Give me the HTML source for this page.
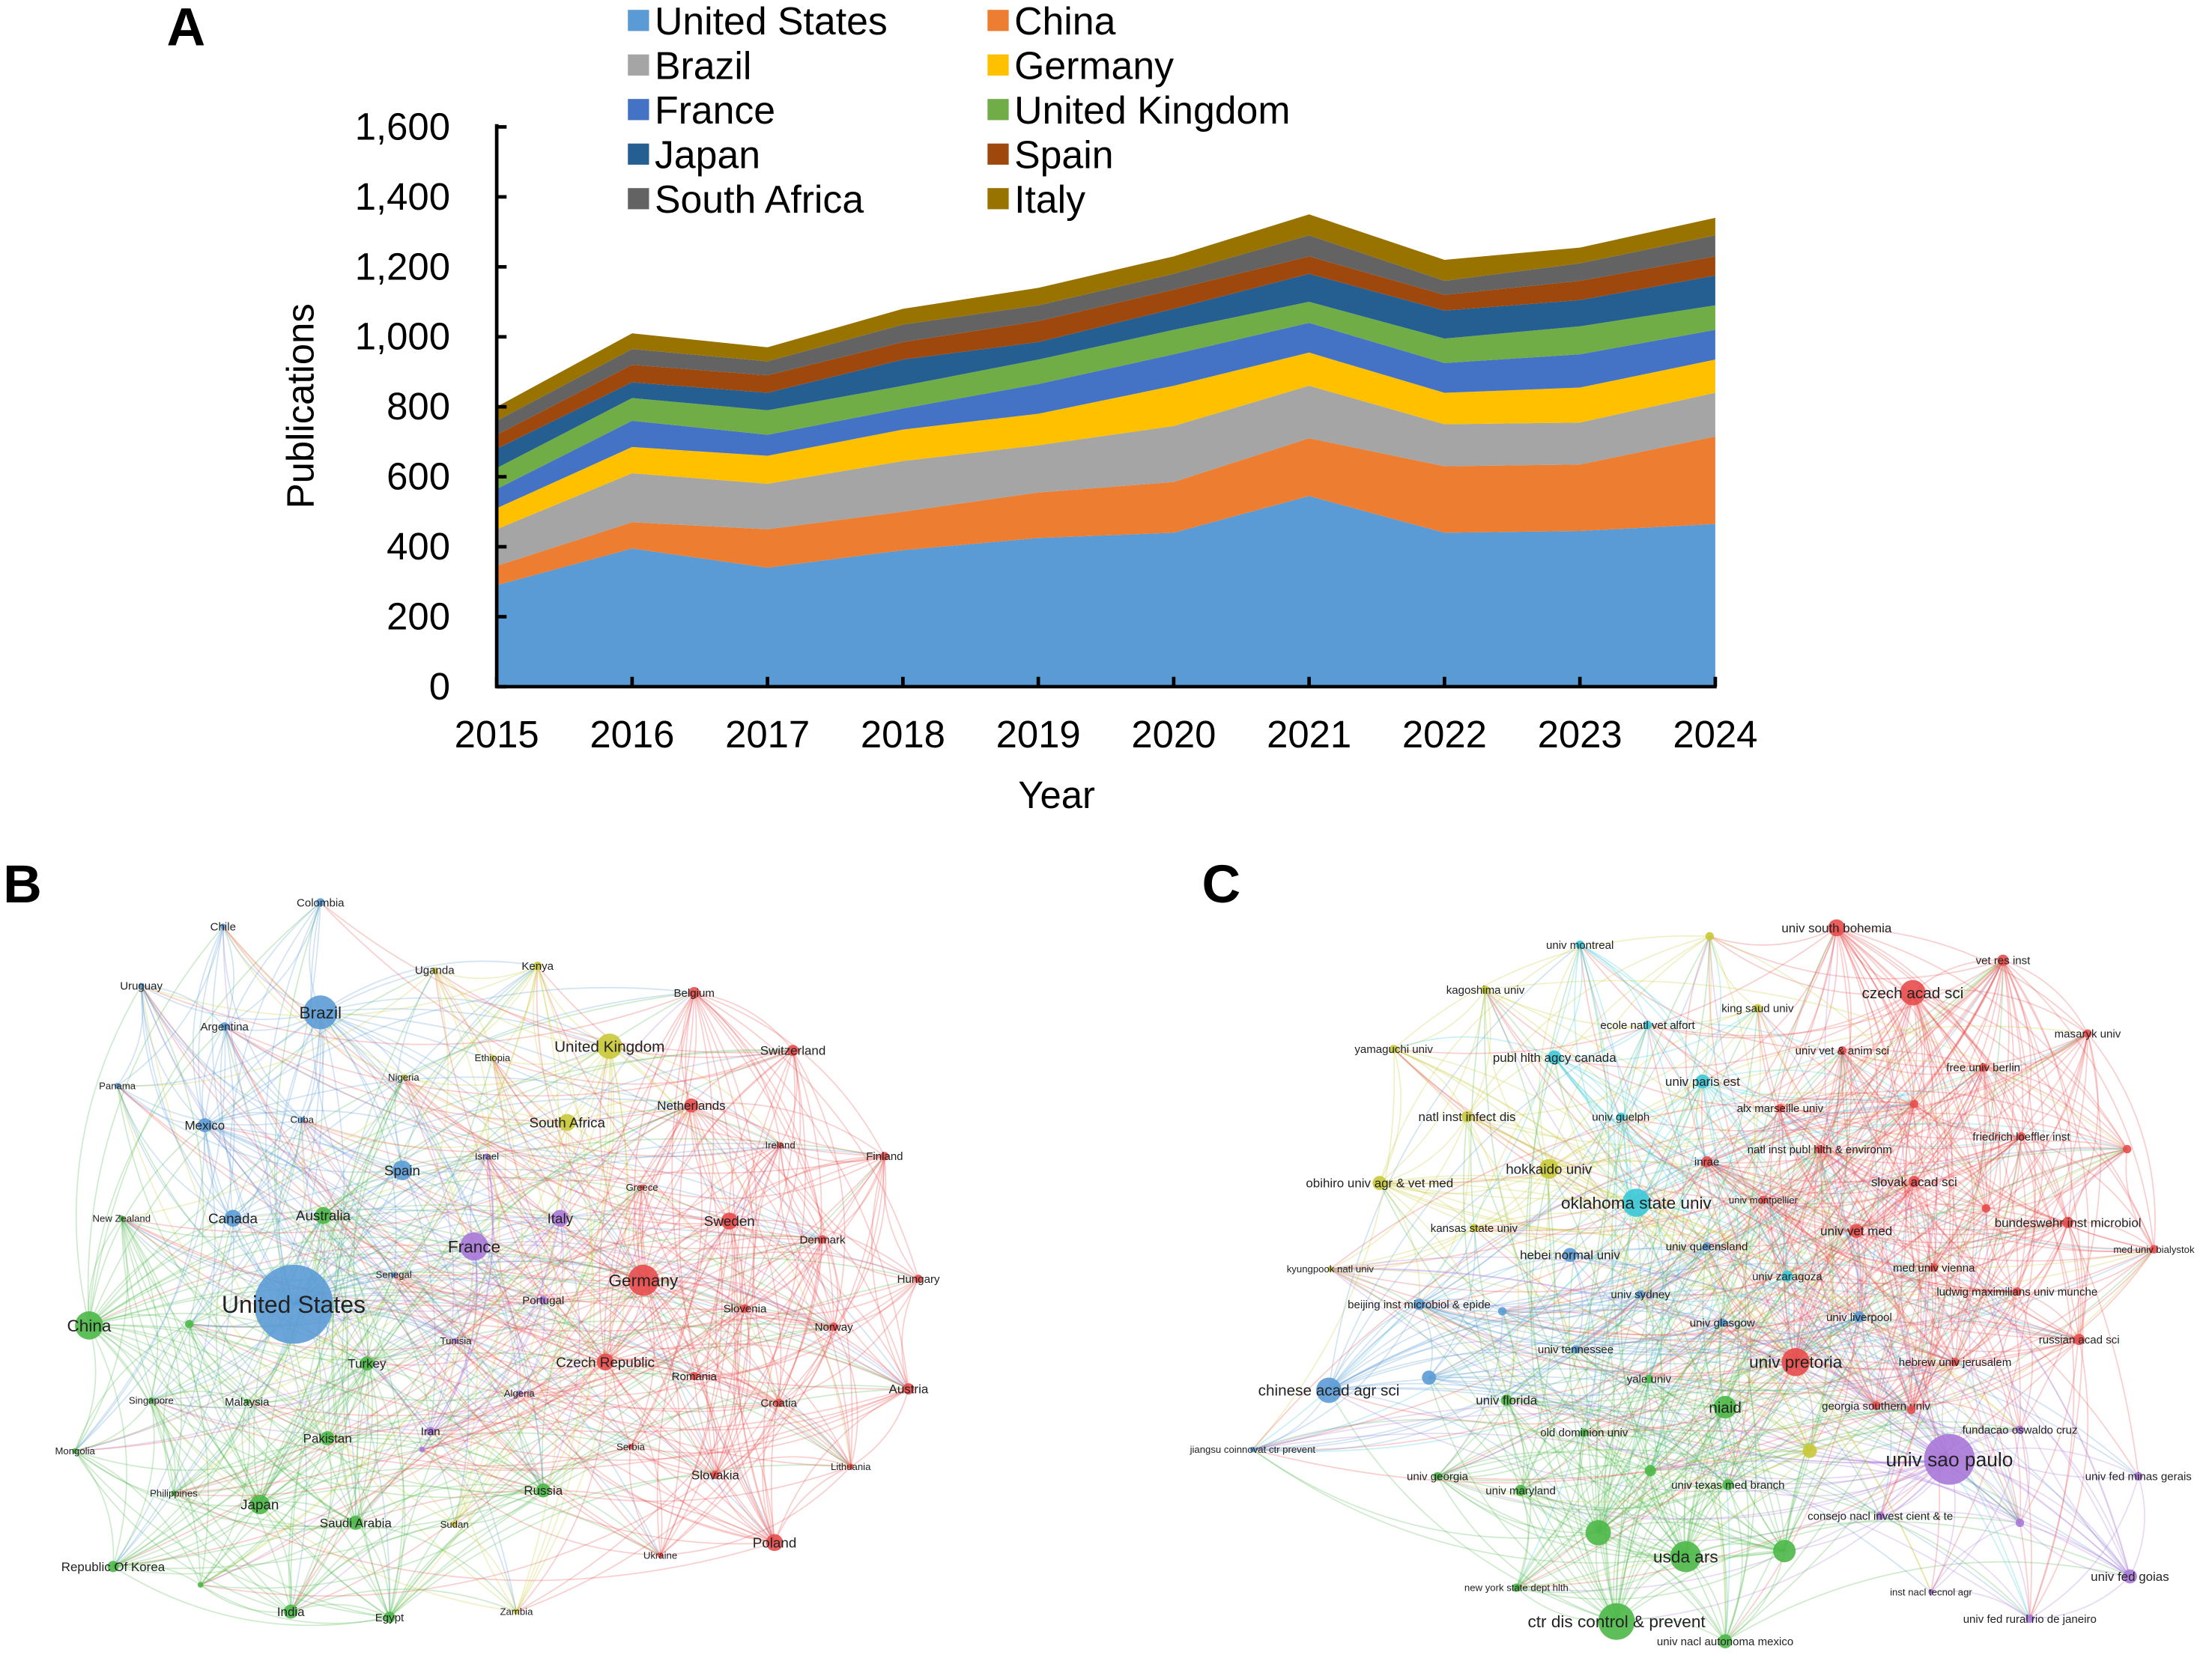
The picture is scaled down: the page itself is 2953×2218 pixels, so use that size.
<!DOCTYPE html>
<html><head><meta charset="utf-8"><style>
html,body{margin:0;padding:0;background:#fff}
svg{display:block}
text{font-family:"Liberation Sans",Arial,sans-serif}
</style></head><body>
<svg id="root" width="2953" height="2218" viewBox="0 0 1568 1178" xmlns="http://www.w3.org/2000/svg">
<g id="chartA"></g>
<g id="netB"></g>
<g id="netC"></g>
</svg>
<script>
const NS="http://www.w3.org/2000/svg";
function mk(tag,attrs,parent,txt){const e=document.createElementNS(NS,tag);for(const k in attrs)e.setAttribute(k,attrs[k]);if(txt!==undefined)e.textContent=txt;parent.appendChild(e);return e;}

// ---- Chart A data ----
const years=[2015,2016,2017,2018,2019,2020,2021,2022,2023,2024];
const seriesNames=["United States","China","Brazil","Germany","France","United Kingdom","Japan","Spain","South Africa","Italy"];
const usVals=[290,395,340,390,425,440,545,440,445,465];
const chinaVals=[55,75,110,110,130,145,165,190,190,250];
const brazilVals=[105,140,130,145,135,160,150,120,120,125];
const germanyVals=[60,75,80,90,90,115,95,90,100,95];
const franceVals=[55,75,60,60,85,90,85,85,95,85];
const ukVals=[60,65,70,65,70,70,60,70,80,70];
const japanVals=[55,45,50,75,50,60,80,80,75,85];
const spainVals=[40,50,50,50,60,55,50,45,55,55];
const saVals=[40,45,40,50,45,45,60,40,50,60];
const italyVals=[40,45,40,45,50,50,60,60,45,50];
const yTicks=[0,200,400,600,800,1000,1200,1400,1600];
const yTickLabels=["0","200","400","600","800","1,000","1,200","1,400","1,600"];
const colors=["#5b9bd5","#ed7d31","#a5a5a5","#ffc000","#4472c4","#70ad47","#255e91","#9e480e","#636363","#997300"];
const allVals=[usVals,chinaVals,brazilVals,germanyVals,franceVals,ukVals,japanVals,spainVals,saVals,italyVals];

const A=document.getElementById('chartA');
const xS=y=>352+(y-2015)*96;
const yS=v=>487-v*(397/1600);
mk('text',{x:118,y:32,'font-size':38,'font-weight':'bold',},A,'A');
let base=years.map(()=>0);
allVals.forEach((vals,i)=>{
  const top=vals.map((v,j)=>base[j]+v);
  let d='M'+years.map((y,j)=>xS(y)+','+yS(top[j])).join('L');
  for(let j=years.length-1;j>=0;j--)d+='L'+xS(years[j])+','+yS(base[j]);
  const p=mk('path',{d:d+'Z',fill:colors[i]},A);
  
  
  base=top;
});
mk('line',{x1:352,y1:88,x2:352,y2:488,stroke:'#000','stroke-width':2.5,},A);
mk('line',{x1:351,y1:487,x2:1217,y2:487,stroke:'#000','stroke-width':2.5,},A);
yTicks.forEach((t,i)=>{
  mk('line',{x1:352,y1:yS(t),x2:359,y2:yS(t),stroke:'#000','stroke-width':2.5},A);
  const tx=mk('text',{x:319,y:yS(t)+9,'font-size':27,'text-anchor':'end'},A,yTickLabels[i]);
  
  
});
years.forEach(y=>{
  mk('line',{x1:xS(y),y1:487,x2:xS(y),y2:480,stroke:'#000','stroke-width':2.5},A);
  const tx=mk('text',{x:xS(y),y:530,'font-size':27,'text-anchor':'middle'},A,String(y));
  
  
});
mk('text',{x:749,y:573,'font-size':27,'text-anchor':'middle',},A,'Year');
mk('text',{x:222,y:288,'font-size':27,'text-anchor':'middle',transform:'rotate(-90 222 288)',},A,'Publications');
const legOrder=[[0,1],[2,3],[4,5],[6,7],[8,9]];
legOrder.forEach((row,r)=>{row.forEach((si,c)=>{
  const lx=c===0?445:700, ly=15+r*31.6;
  const g=mk('g',{},A);
  
  
  mk('rect',{x:lx,y:ly-8,width:15,height:15,fill:colors[si]},g);
  mk('text',{x:lx+19,y:ly+9.5,'font-size':27.5},g,seriesNames[si]);
});});

// ---- Networks ----
const CL={b:"#5b9bd5",g:"#4cb848",r:"#e84c4c",y:"#c9c93a",p:"#a878d8",c:"#3cc8d8"};
const nodesB=[["United States",208,925,28,"b",17],["Brazil",227,718,12,"b",12],["China",63,940,10,"g",12],["Germany",456,908,11,"r",12],["France",336,884,10,"p",12],["United Kingdom",432,742,9,"y",11],["Spain",285,830,7,"b",10],["Italy",397,864,6,"p",10],["Japan",184,1067,7,"g",10],["Canada",165,864,6,"b",10],["Australia",229,862,6,"g",10],["South Africa",402,796,6,"y",10],["Mexico",145,798,5,"b",9],["Turkey",260,967,5,"g",9],["Pakistan",232,1020,5,"g",9],["Saudi Arabia",252,1080,5,"g",9],["India",206,1143,5,"g",9],["Egypt",276,1147,4,"g",8],["Russia",385,1057,5,"g",9],["Poland",549,1094,6,"r",10],["Czech Republic",429,966,6,"r",10],["Sweden",517,866,6,"r",10],["Netherlands",490,784,5,"r",9],["Belgium",492,704,4,"r",8],["Switzerland",562,745,4,"r",9],["Austria",644,985,4,"r",9],["Hungary",651,907,3,"r",8],["Finland",627,820,3,"r",8],["Denmark",583,879,3,"r",8],["Norway",591,941,3,"r",8],["Slovenia",528,928,3,"r",8],["Romania",492,976,3,"r",8],["Croatia",552,995,3,"r",8],["Slovakia",507,1046,3,"r",9],["Lithuania",603,1040,2,"r",7],["Ukraine",468,1103,2,"r",7],["Serbia",447,1026,2,"r",7],["Ireland",553,812,2,"r",7],["Greece",455,842,2,"r",7],["Kenya",381,685,3,"y",8],["Uganda",308,688,2,"y",8],["Ethiopia",349,750,2,"y",7],["Nigeria",286,764,2,"y",7],["Sudan",322,1081,2,"y",7],["Zambia",366,1143,2,"y",7],["Israel",345,820,2,"p",7],["Portugal",385,922,3,"p",8],["Tunisia",323,951,2,"p",7],["Algeria",368,988,2,"p",7],["Iran",305,1015,3,"p",8],["Senegal",279,904,2,"b",7],["Cuba",214,794,2,"b",7],["Colombia",227,640,3,"b",8],["Chile",158,657,2,"b",8],["Uruguay",100,699,2,"b",8],["Argentina",159,728,3,"b",8],["Panama",83,770,2,"b",7],["New Zealand",86,864,2,"g",7],["Singapore",107,993,2,"g",7],["Malaysia",175,994,2,"g",8],["Mongolia",53,1029,2,"g",7],["Philippines",123,1059,2,"g",7],["Republic Of Korea",80,1111,4,"g",9],["",134,939,3,"g",0],["",142,1124,2,"g",0],["",299,1028,2,"p",0]];
const nodesC=[["univ sao paulo",1382,1035,18,"p",14],["ctr dis control & prevent",1146,1150,13,"g",12],["usda ars",1195,1104,11,"g",12],["univ pretoria",1273,966,10,"r",12],["oklahoma state univ",1160,853,10,"c",12],["czech acad sci",1356,704,9,"r",11],["chinese acad agr sci",942,986,9,"b",11],["niaid",1223,998,8,"g",11],["hokkaido univ",1098,829,7,"y",10],["",1133,1087,9,"g",0],["",1265,1100,8,"g",0],["univ south bohemia",1302,658,6,"r",9],["vet res inst",1420,681,4,"r",8],["masaryk univ",1480,733,3,"r",8],["free univ berlin",1406,757,3,"r",8],["friedrich loeffler inst",1433,806,3,"r",8],["bundeswehr inst microbiol",1466,867,4,"r",9],["med univ bialystok",1527,886,3,"r",7],["ludwig maximilians univ munche",1430,916,3,"r",8],["russian acad sci",1474,950,4,"r",8],["hebrew univ jerusalem",1386,966,3,"r",8],["georgia southern univ",1330,997,3,"r",8],["slovak acad sci",1357,838,4,"r",9],["univ vet med",1316,873,5,"r",9],["med univ vienna",1371,899,3,"r",8],["univ vet & anim sci",1306,745,3,"r",8],["alx marseille univ",1262,786,3,"r",8],["natl inst publ hlth & environm",1290,815,3,"r",8],["inrae",1210,824,4,"r",8],["univ montpellier",1250,851,3,"r",7],["king saud univ",1246,715,3,"y",8],["kagoshima univ",1053,702,3,"y",8],["yamaguchi univ",988,744,3,"y",8],["natl inst infect dis",1040,792,4,"y",9],["obihiro univ agr & vet med",978,839,5,"y",9],["kansas state univ",1045,871,3,"y",8],["kyungpook natl univ",943,900,2,"y",7],["",1212,664,3,"y",0],["",1283,1029,5,"y",0],["univ montreal",1120,670,3,"c",8],["ecole natl vet alfort",1168,727,3,"c",8],["publ hlth agcy canada",1102,750,5,"c",9],["univ paris est",1207,767,5,"c",9],["univ guelph",1149,792,3,"c",8],["univ zaragoza",1267,905,4,"c",8],["univ queensland",1210,884,3,"b",8],["hebei normal univ",1113,890,5,"b",9],["univ sydney",1163,918,3,"b",8],["univ liverpool",1318,934,4,"b",8],["univ glasgow",1221,938,3,"b",8],["beijing inst microbiol & epide",1006,925,4,"b",8],["univ tennessee",1117,957,3,"b",8],["",1065,930,3,"b",0],["",1013,977,5,"b",0],["jiangsu coinnovat ctr prevent",888,1028,2,"b",7],["univ florida",1068,993,4,"g",9],["yale univ",1169,978,3,"g",8],["old dominion univ",1123,1016,3,"g",8],["univ texas med branch",1225,1053,4,"g",8],["univ maryland",1078,1057,4,"g",8],["univ georgia",1019,1047,3,"g",8],["new york state dept hlth",1075,1126,3,"g",7],["univ nacl autonoma mexico",1223,1164,5,"g",8],["",1170,1043,4,"g",0],["consejo nacl invest cient & te",1333,1075,3,"p",8],["fundacao oswaldo cruz",1432,1014,3,"p",8],["univ fed minas gerais",1516,1047,3,"p",8],["univ fed goias",1510,1118,5,"p",9],["inst nacl tecnol agr",1369,1129,2,"p",7],["univ fed rural rio de janeiro",1439,1148,3,"p",8],["",1432,1080,3,"p",0],["",1355,1000,3,"r",0],["",1357,783,3,"r",0],["",1508,815,3,"r",0],["",1408,857,3,"r",0]];

function hash(a,b){let h=(a*73856093)^(b*19349663);h=(h^(h>>>13))*1274126177;return ((h^(h>>>16))>>>0)%1000;}
function drawNet(gid,nodes,letter,lx,ly,dense){
  const G=document.getElementById(gid);
  mk('text',{x:lx,y:ly,'font-size':38,'font-weight':'bold'},G,letter);
  const eg=mk('g',{fill:'none','stroke-width':0.9},G);
  
  
  for(let i=0;i<nodes.length;i++)for(let j=i+1;j<nodes.length;j++){
    const a=nodes[i],b=nodes[j];const same=a[4]===b[4];
    const big=a[3]+b[3];
    const th=same?dense*(450+big*40):dense*(70+big*18);
    if(hash(i,j)<th){
      const mx=(a[1]+b[1])/2+(b[2]-a[2])*0.2,my=(a[2]+b[2])/2-(b[1]-a[1])*0.2;
      mk('path',{d:`M${a[1]},${a[2]}Q${mx},${my} ${b[1]},${b[2]}`,stroke:CL[a[3]>=b[3]?a[4]:b[4]],'stroke-opacity':0.28},eg);
    }
  }
  nodes.forEach(n=>{
    const g=mk('g',{},G);
    
    
    mk('circle',{cx:n[1],cy:n[2],r:n[3],fill:CL[n[4]],'fill-opacity':0.9},g);
    if(n[0])mk('text',{x:n[1],y:n[2]+n[5]*0.35,'font-size':n[5],'text-anchor':'middle',fill:'#222'},g,n[0]);
  });
}
drawNet('netB',nodesB,'B',2,640,1);
drawNet('netC',nodesC,'C',852,640,0.9);
</script>
</body></html>
